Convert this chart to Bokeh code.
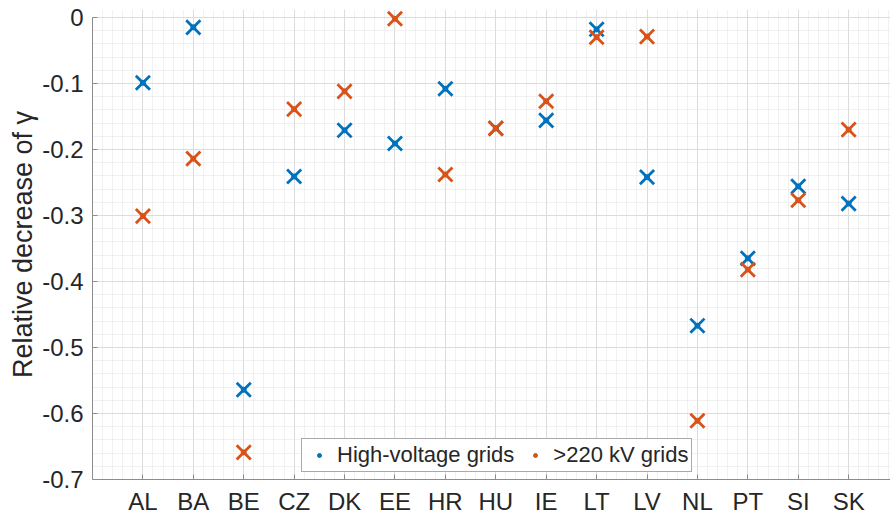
from bokeh.plotting import figure
from bokeh.models import FixedTicker, Range1d, Legend, LegendItem, ColumnDataSource
from bokeh.embed import file_html
from bokeh.resources import INLINE

countries = ["AL", "BA", "BE", "CZ", "DK", "EE", "HR", "HU", "IE", "LT", "LV", "NL", "PT", "SI", "SK"]
high_voltage = [-0.099, -0.015, -0.564, -0.241, -0.171, -0.191, -0.108, -0.168, -0.156, -0.018,
                -0.242, -0.467, -0.365, -0.256, -0.282]
kv220 = [-0.301, -0.214, -0.659, -0.139, -0.112, -0.002, -0.238, -0.168, -0.127, -0.030,
         -0.029, -0.611, -0.382, -0.277, -0.170]
y_ticks = [-0.7, -0.6, -0.5, -0.4, -0.3, -0.2, -0.1, 0.0]
series_names = ["High-voltage grids", ">220 kV grids"]
colors = ["#0072BD", "#D95319"]

xpos = list(range(1, len(countries) + 1))
FONT = "Liberation Sans"
TXT = "#262626"

p = figure(width=890, height=518, output_backend="svg", toolbar_location=None, title=None,
           x_range=Range1d(0, 15.83), y_range=Range1d(-0.7, 0.012),
           min_border_left=92, min_border_right=0, min_border_top=9, min_border_bottom=39)
p.outline_line_color = None
p.background_fill_color = "white"

# ticks
minor_x = [round(i * 0.2, 2) for i in range(0, 80)]
minor_y = [round(-0.7 + i * 0.02, 3) for i in range(0, 36)]
p.xaxis.ticker = FixedTicker(ticks=xpos, minor_ticks=minor_x)
p.yaxis.ticker = FixedTicker(ticks=y_ticks, minor_ticks=minor_y)
p.xaxis.major_label_overrides = {x: c for x, c in zip(xpos, countries)}
p.yaxis.major_label_overrides = {v: ("0" if v == 0 else f"{v:.1f}") for v in y_ticks}

for ax in (p.xaxis[0], p.yaxis[0]):
    ax.axis_line_color = "#8c8c8c"
    ax.axis_line_width = 1
    ax.major_tick_line_color = "#8c8c8c"
    ax.major_tick_in = 5
    ax.major_tick_out = 0
    ax.minor_tick_in = 0
    ax.minor_tick_out = 0
    ax.major_label_text_font = FONT
    ax.major_label_text_font_size = "24px"
    ax.major_label_text_color = TXT
    ax.major_label_text_font_style = "normal"

p.yaxis.bounds = (-0.7, 0.0)
p.xaxis.major_label_standoff = 8
p.yaxis.major_label_standoff = 9
p.yaxis.axis_label = "Relative decrease of \u03b3"
p.yaxis.axis_label_text_font = FONT
p.yaxis.axis_label_text_font_size = "27px"
p.yaxis.axis_label_text_font_style = "normal"
p.yaxis.axis_label_text_color = TXT
p.yaxis.axis_label_standoff = 1

# grids
for g in (p.xgrid[0], p.ygrid[0]):
    g.grid_line_color = "#dcdcdc"
    g.grid_line_width = 1
    g.minor_grid_line_color = "#e3e3e3"
    g.minor_grid_line_dash = "1 1"
    g.minor_grid_line_width = 1

# data
src = ColumnDataSource(dict(x=xpos, hv=high_voltage, kv=kv220))
p.scatter("x", "hv", source=src, marker="x", size=20, line_color=colors[0], line_width=2.8)
p.scatter("x", "kv", source=src, marker="x", size=20, line_color=colors[1], line_width=2.8)

# small dot renderers (hidden under the crosses) used for the legend glyphs
r1 = p.scatter("x", "hv", source=src, marker="circle", size=5, fill_color=colors[0], line_color=colors[0])
r2 = p.scatter("x", "kv", source=src, marker="circle", size=5, fill_color=colors[1], line_color=colors[1])
legend = Legend(items=[LegendItem(label=series_names[0], renderers=[r1]),
                       LegendItem(label=series_names[1], renderers=[r2])],
                orientation="horizontal", location=(209, 7))
legend.label_text_font = FONT
legend.label_text_font_size = "22px"
legend.label_text_color = TXT
legend.border_line_color = "#555555"
legend.border_line_width = 1
legend.background_fill_color = "white"
legend.background_fill_alpha = 1
legend.padding = 3
legend.margin = 0
legend.spacing = 7
legend.glyph_width = 28
legend.glyph_height = 10
legend.label_standoff = 4
legend.label_height = 24
p.add_layout(legend, "center")

open("out.html", "w").write(file_html(p, INLINE))
